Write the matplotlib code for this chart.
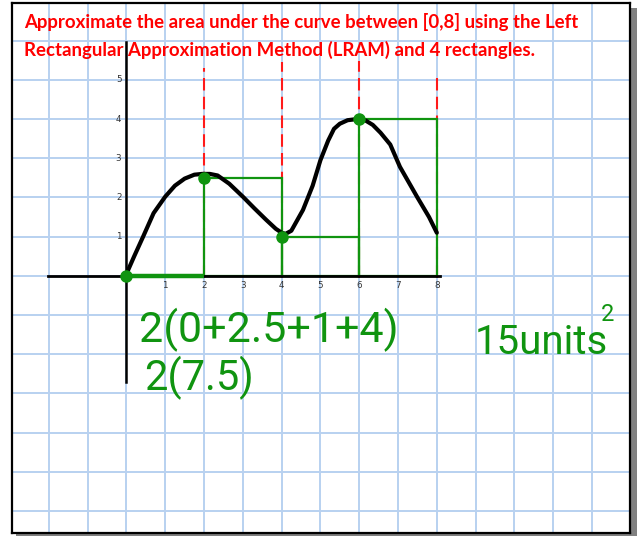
import matplotlib.pyplot as plt
from matplotlib.patches import Rectangle

# curve traced over [0, 8]
curve_x = [0, 0.2, 0.43, 0.7, 1.0, 1.25, 1.5, 1.75, 1.95, 2.15, 2.35, 2.65, 3.0, 3.3, 3.6,
           3.85, 4.0, 4.1, 4.25, 4.55, 4.8, 5.0, 5.2, 5.35, 5.5, 5.7, 5.95, 6.15, 6.35,
           6.55, 6.8, 7.05, 7.5, 7.8, 8.0]
curve_y = [0.05, 0.5, 1.0, 1.6, 2.02, 2.3, 2.48, 2.58, 2.6, 2.6, 2.56, 2.35, 2.02, 1.72, 1.43,
           1.2, 1.1, 1.07, 1.15, 1.68, 2.3, 2.95, 3.45, 3.75, 3.88, 3.97, 4.0, 3.97, 3.85,
           3.65, 3.35, 2.78, 2.0, 1.5, 1.1]

# left endpoint rectangles
rect_left = [0, 2, 4, 6]
rect_height = [0, 2.5, 1, 4]
rect_width = 2

# dashed partition lines
cut_x = [2, 4, 6, 8]
cut_top = [5.3, 5.46, 5.48, 5.18]

x_ticks = [1, 2, 3, 4, 5, 6, 7, 8]
y_ticks = [1, 2, 3, 4, 5]

title_lines = [
    "Approximate the area under the curve between [0,8] using the Left",
    "Rectangular Approximation Method (LRAM) and 4 rectangles.",
]

W, H = 637, 536
green = '#109410'
red = '#ff1a1a'
grid_blue = '#b8d1f0'

fig = plt.figure(figsize=(W / 100, H / 100), dpi=100)

# drop shadow behind the page
fig.patches.append(Rectangle((16 / W, 0), 621 / W, 528 / H, transform=fig.transFigure,
                             facecolor='#808080', edgecolor='none', zorder=-1))

ax = fig.add_axes([12 / W, 3 / H, 618 / W, 530 / H])
ax.set_xlim(-2.95, 12.98)
ax.set_ylim(-6.56, 6.96)
ax.set_xticks(range(-2, 13))
ax.set_yticks(range(-6, 7))
ax.tick_params(length=0, labelbottom=False, labelleft=False)
ax.grid(True, color=grid_blue, lw=1.4)
for s in ax.spines.values():
    s.set_color('black')
    s.set_linewidth(1.6)

# axes
ax.plot([-2.02, 8.08], [0, 0], color='black', lw=2, zorder=3)
ax.plot([0, 0], [5.97, -2.72], color='black', lw=1.8, zorder=3)
for t in x_ticks:
    ax.text(t, -0.25, str(t), ha='center', va='center', fontsize=6.3, color='#333333')
for t in y_ticks:
    ax.text(-0.13, t, str(t), ha='right', va='center', fontsize=6.3, color='#333333')

# partitions
ax.vlines(cut_x, -0.05, cut_top, colors=red, lw=1.5, linestyles=(0, (6, 3)), zorder=2)

# rectangles
ax.bar(rect_left, rect_height, width=rect_width, align='edge', fill=False,
       edgecolor=green, linewidth=1.6, zorder=2)
for xl, h in zip(rect_left, rect_height):
    if h == 0:
        ax.plot([xl, xl + rect_width], [0, 0], color=green, lw=3.2, zorder=4,
                solid_capstyle='butt')

ax.plot(curve_x, curve_y, color='black', lw=3, solid_capstyle='round',
        solid_joinstyle='round', zorder=3)
ax.plot(rect_left, rect_height, 'o', color=green, ms=8, zorder=5)

# written work
hand = dict(color=green, family=['Roboto', 'DejaVu Sans'])
total = sum(rect_height)
ax.text(0.33, -1.38, f"{rect_width}(" + "+".join(f"{h:g}" for h in rect_height) + ")",
        ha='left', va='center', fontsize=31, **hand)
ax.text(0.46, -2.6, f"{rect_width}({total:g})", ha='left', va='center', fontsize=30, **hand)
ax.text(8.98, -1.7, f"{rect_width * total:g}units", ha='left', va='center', fontsize=29, **hand)
ax.text(12.41, -0.99, "2", ha='center', va='center', fontsize=17, **hand)

# heading, sized to the page width
fig.canvas.draw()
r = fig.canvas.get_renderer()
ys = [28, 56]
for line, yb in zip(title_lines, ys):
    t = fig.text(24 / W, 1 - yb / H, line, ha='left', va='baseline', color='#ff0000',
                 fontsize=13, fontweight='bold', family=['Lato', 'DejaVu Sans'])
    if line is title_lines[0]:
        w = t.get_window_extent(r).width
        size = 13 * 553 / w
    t.set_fontsize(size)

fig.savefig('out.png', dpi=100)
